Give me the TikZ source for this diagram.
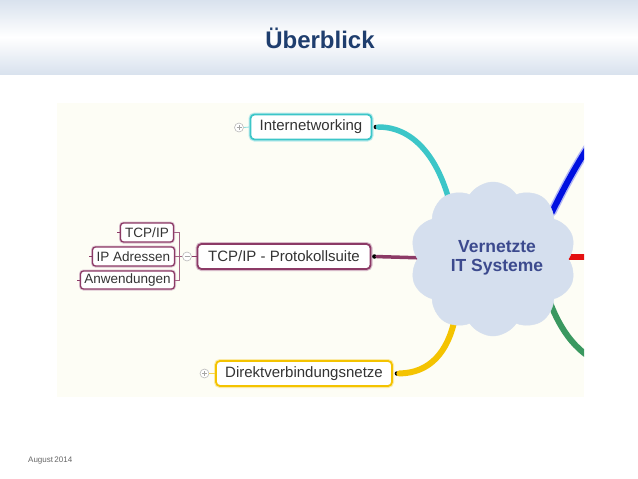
\documentclass[tikz,border=0pt]{standalone}
\usepackage{fontspec}
\setmainfont{Liberation Sans}
\usetikzlibrary{shapes.symbols}
\definecolor{hdr}{HTML}{D9E2EE}
\definecolor{imgbg}{HTML}{FDFDF5}
\definecolor{titleblue}{HTML}{1F3E6E}
\definecolor{tealc}{HTML}{3CC6C8}
\definecolor{maroonc}{HTML}{8C3A66}
\definecolor{yellowc}{HTML}{F4C300}
\definecolor{cloudc}{HTML}{D5DFEE}
\definecolor{cloudtext}{HTML}{3C4A8E}
\definecolor{bluec}{HTML}{0010E0}
\definecolor{redc}{HTML}{E41010}
\definecolor{greenc}{HTML}{3A9860}
\definecolor{txt}{HTML}{333333}
\tikzset{
  mbox/.style={draw=#1, line width=1.8pt, rounded corners=4pt, fill=white,
    preaction={draw=#1!35, line width=4pt},
    text=txt, font=\fontsize{15}{18}\selectfont, inner sep=0pt, anchor=center},
  sbox/.style={draw=maroonc, line width=1.3pt, rounded corners=3pt, fill=white,
    preaction={draw=maroonc!30, line width=3pt},
    text=txt, font=\fontsize{13.5}{16}\selectfont, inner sep=0pt, anchor=center},
  knob/.style={circle, draw=gray!55, fill=white, line width=0.6pt, minimum size=9pt, inner sep=0pt},
  enddot/.style={circle, fill=black, minimum size=4.5pt, inner sep=0pt},
  branch/.style={line width=#1, line cap=round},
}
\begin{document}
\begin{tikzpicture}[x=1pt,y=-1pt]
\useasboundingbox (0,0) rectangle (638,479);
\fill[white] (0,0) rectangle (638,479);
\shade[top color=hdr, bottom color=hdr, middle color=white] (0,0) rectangle (638,74);
\node[text=titleblue, font=\fontsize{24}{28}\selectfont\bfseries] (title) at (320,38) {Überblick};
\node[text=gray!80!black, font=\fontsize{8}{10}\selectfont, anchor=west, inner sep=0pt] (foot) at (28,461) {August\,2014};

\begin{scope}
\clip (57,103) rectangle (584,397);
\fill[imgbg] (57,103) rectangle (584,397);

% right side branches (clipped)
\coordinate (bS) at (552,212);
\coordinate (bE) at (600,130);
\coordinate (rS) at (565,257);
\coordinate (rE) at (600,257);
\coordinate (gS) at (545,288);
\coordinate (gE) at (598,362);
\draw[branch=9pt, bluec!30] (bS) .. controls (562,192) and (578,160) .. (bE);
\draw[branch=6pt, bluec] (bS) .. controls (562,192) and (578,160) .. (bE);
\draw[branch=6pt, redc] (rS) -- (rE);
\draw[branch=6pt, greenc] (gS) .. controls (555,320) and (570,348) .. (gE);

% main nodes
\node[mbox=tealc, minimum width=121pt, minimum height=25pt] (inet) at (311,127) {Internetworking};
\node[mbox=maroonc, minimum width=173pt, minimum height=25pt] (tcp) at (284,256.5) {TCP/IP - Protokollsuite};
\node[mbox=yellowc, minimum width=176pt, minimum height=25pt] (direkt) at (304,373.5) {Direktverbindungsnetze};

% sub nodes
\node[sbox, minimum width=53pt, minimum height=19pt] (s1) at (147,232.5) {TCP/IP};
\node[sbox, minimum width=82pt, minimum height=19pt] (s2) at (133.5,256.5) {IP Adressen};
\node[sbox, minimum width=94pt, minimum height=18pt] (s3) at (127.5,280) {Anwendungen};

% end dots
\node[enddot] (inetdot) at ([xshift=3.5pt]inet.east) {};
\node[enddot] (tcpdot) at ([xshift=3pt]tcp.east) {};
\node[enddot] (direktdot) at ([xshift=4pt]direkt.east) {};

% curves to cloud
\coordinate (cT) at (449,200);
\coordinate (cL) at (425,258);
\coordinate (cB) at (455,318);
\draw[branch=5.5pt, tealc] (inetdot) .. controls (415,127) and (438,160) .. (cT);
\draw[branch=3.5pt, maroonc] (tcpdot) -- (cL);
\draw[branch=6pt, yellowc] (direktdot) .. controls (430,373) and (448,352) .. (cB);

% knobs
\node[knob] (k1) at (239,127.5) {};
\draw[gray!70, line width=0.6pt] (236.5,127.5) -- (241.5,127.5) (239,125) -- (239,130);
\draw[tealc!60, line width=0.8pt] (k1.east) -- (inet.west);
\node[knob] (k2) at (187,256.5) {};
\draw[gray!70, line width=0.6pt] (184.5,256.5) -- (189.5,256.5);
\draw[maroonc, line width=1pt] (k2.east) -- (tcp.west);
\node[knob] (k3) at (204.5,373.5) {};
\draw[gray!70, line width=0.6pt] (202,373.5) -- (207,373.5) (204.5,371) -- (204.5,376);
\draw[yellowc!70, line width=0.8pt] (k3.east) -- (direkt.west);

% bracket for sub nodes
\coordinate (br) at (179,256.5);
\draw[maroonc!80, line width=0.8pt] (s1.east) -- (179,232.5) -- (179,280) -- (s3.east);
\draw[maroonc!80, line width=0.8pt] (s2.east) -- (br) -- (k2.west);
\draw[maroonc, line width=1pt] (s1.west) -- ++(-3,0);
\draw[maroonc, line width=1pt] (s2.west) -- ++(-3,0);
\draw[maroonc, line width=1pt] (s3.west) -- ++(-3,0);

% cloud
\node[cloud, cloud puffs=10, cloud puff arc=115, aspect=1.05, fill=cloudc, draw=cloudc,
      minimum width=166pt, minimum height=154pt, inner sep=0pt] (cloud) at (493,259) {};
\node[text=cloudtext, font=\fontsize{17.5}{19.5}\selectfont\bfseries, align=center] (ctext) at (497,258) {Vernetzte\\IT Systeme};
\end{scope}
\end{tikzpicture}
\end{document}
